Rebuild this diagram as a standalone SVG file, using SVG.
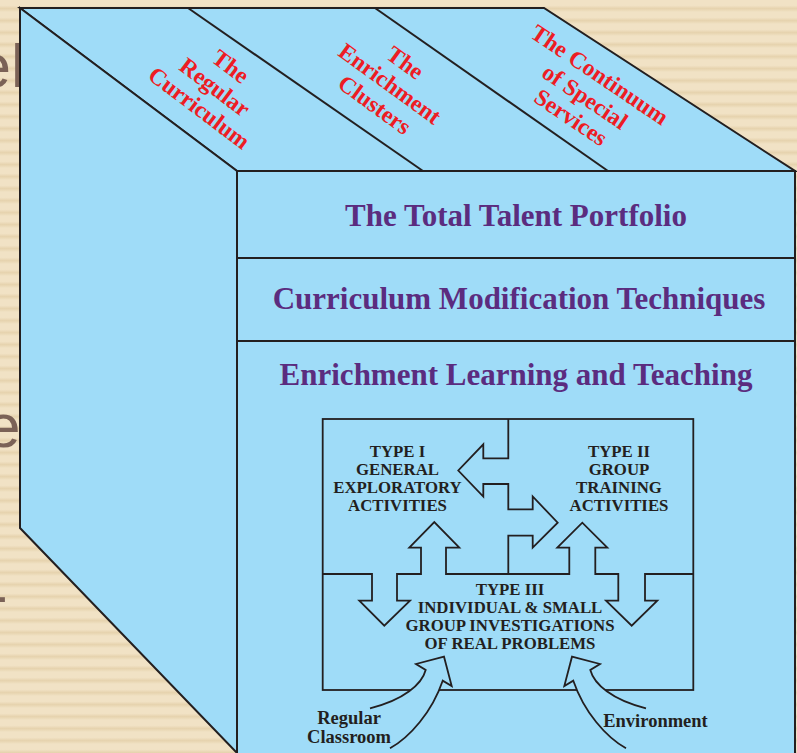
<svg xmlns="http://www.w3.org/2000/svg" width="797" height="753" viewBox="0 0 797 753">
<defs>
<linearGradient id="stripeGrad" x1="0" y1="0" x2="0" y2="1">
<stop offset="0" stop-color="#f1e2c5"/>
<stop offset="0.45" stop-color="#f1e2c5"/>
<stop offset="0.72" stop-color="#e6d3ae"/>
<stop offset="1" stop-color="#f1e2c5"/>
</linearGradient>
<pattern id="stripes" width="797" height="12" patternUnits="userSpaceOnUse">
<rect width="797" height="12" fill="url(#stripeGrad)"/>
</pattern>
<style>
.face{fill:#9fdcf8;stroke:#231f20;stroke-width:2;stroke-linejoin:miter}
.edge{fill:none;stroke:#231f20;stroke-width:2}
.line{fill:none;stroke:#231f20;stroke-width:1.8;stroke-linejoin:miter}
.cover{fill:#9fdcf8;stroke:none}
.red{font-family:"Liberation Serif","Times New Roman",serif;font-weight:bold;font-size:23.5px;fill:#ed1c24;text-anchor:middle}
.title{font-family:"Liberation Serif","Times New Roman",serif;font-weight:bold;font-size:31px;fill:#5b2c7f;text-anchor:middle}
.inner{font-family:"Liberation Serif","Times New Roman",serif;font-weight:bold;font-size:16.8px;fill:#231f20;text-anchor:middle}
.lbl{font-family:"Liberation Serif","Times New Roman",serif;font-weight:bold;font-size:18.5px;fill:#231f20;text-anchor:middle}
.bg{font-family:"Liberation Sans",Arial,sans-serif;font-size:62px;fill:#7b6257}
</style>
</defs>

<g id="background">
<rect width="797" height="753" fill="url(#stripes)"/>
<text class="bg" x="-23.5" y="87">el</text>
<text class="bg" x="-14" y="447" font-size="63">e</text>
<text class="bg" x="-12.9" y="616">-</text>
</g>

<g id="cube">
<polygon id="top-face" class="face" points="20,8 544,8 795,171 237,171"/>
<polygon id="left-face" class="face" points="20,8 237,171 237,753 20,528"/>
<rect id="front-face" class="face" x="237" y="171" width="558" height="600"/>
<line class="edge" x1="188" y1="8" x2="423" y2="171"/>
<line class="edge" x1="375" y1="8" x2="608" y2="171"/>
<line class="edge" x1="237" y1="258" x2="795" y2="258"/>
<line class="edge" x1="237" y1="341" x2="795" y2="341"/>
</g>

<g id="node-regular-curriculum" transform="translate(215,87) rotate(37)">
<text class="red" x="0" y="-18">The</text>
<text class="red" x="0" y="8">Regular</text>
<text class="red" x="0" y="34">Curriculum</text>
</g>
<g id="node-enrichment-clusters" transform="translate(390,83.5) rotate(36)">
<text class="red" x="0" y="-18">The</text>
<text class="red" x="0" y="8">Enrichment</text>
<text class="red" x="0" y="34">Clusters</text>
</g>
<g id="node-continuum" transform="translate(585,96.5) rotate(34)">
<text class="red" x="0" y="-18.5">The Continuum</text>
<text class="red" x="0" y="8">of Special</text>
<text class="red" x="0" y="33">Services</text>
</g>

<g id="node-total-talent-portfolio">
<text class="title" x="516" y="226">The Total Talent Portfolio</text>
</g>
<g id="node-curriculum-modification">
<text class="title" x="519" y="308.5">Curriculum Modification Techniques</text>
</g>
<g id="node-enrichment-learning">
<text class="title" x="516" y="385">Enrichment Learning and Teaching</text>
</g>

<g id="node-enrichment-triad">
<rect class="line" x="322.7" y="419" width="370.6" height="271"/>
</g>

<g id="connectors">
<path class="line" d="M508.3,419 V458.3 H483.3 V444.3 L458.3,470.5 L483.3,496.5 V484 H508.3 V509.3 H532.7 V496.5 L557.7,522.7 L532.7,547.7 V535.7 H508.3 V574"/>
<path class="line" d="M322.7,574 H372 V600.7 H359.3 L384.3,625.7 L410,600.7 H397 V574 H421 V547.7 H409.3 L434.3,522 L459.3,547.7 H446 V574 H569.3 V547.7 H557.3 L582.3,522.7 L607.3,547.7 H595.3 V574 H618.3 V600.7 H606 L631.7,625.7 L657.3,600.7 H645 V574 H693.3"/>
<g id="arrow-regular-classroom">
<path class="cover" d="M390,748.3 C410,737 432,712 442.7,680.7 L451.7,686 L444,656.7 L416,664 L425.7,670 C422,684 404,700 370,708.3 Z"/>
<path class="line" d="M390,748.3 C410,737 432,712 442.7,680.7 L451.7,686 L444,656.7 L416,664 L425.7,670 C422,684 404,700 370,708.3"/>
</g>
<g id="arrow-environment" transform="matrix(-1 0 0 1 1016 0)">
<path class="cover" d="M390,748.3 C410,737 432,712 442.7,680.7 L451.7,686 L444,656.7 L416,664 L425.7,670 C422,684 404,700 370,708.3 Z"/>
<path class="line" d="M390,748.3 C410,737 432,712 442.7,680.7 L451.7,686 L444,656.7 L416,664 L425.7,670 C422,684 404,700 370,708.3"/>
</g>
</g>

<g id="node-type1">
<text class="inner" x="397.5" y="456.5">TYPE I</text>
<text class="inner" x="397.5" y="474.5">GENERAL</text>
<text class="inner" x="397.5" y="492.5">EXPLORATORY</text>
<text class="inner" x="397.5" y="510.5">ACTIVITIES</text>
</g>
<g id="node-type2">
<text class="inner" x="619" y="456.5">TYPE II</text>
<text class="inner" x="619" y="474.5">GROUP</text>
<text class="inner" x="619" y="492.5">TRAINING</text>
<text class="inner" x="619" y="510.5">ACTIVITIES</text>
</g>
<g id="node-type3">
<text class="inner" x="510" y="595">TYPE III</text>
<text class="inner" x="510" y="613">INDIVIDUAL &amp; SMALL</text>
<text class="inner" x="510" y="631">GROUP INVESTIGATIONS</text>
<text class="inner" x="510" y="649">OF REAL PROBLEMS</text>
</g>

<g id="node-regular-classroom">
<text class="lbl" x="349" y="724">Regular</text>
<text class="lbl" x="349" y="743.3">Classroom</text>
</g>
<g id="node-environment">
<text class="lbl" x="655.5" y="726.7">Environment</text>
</g>
</svg>
